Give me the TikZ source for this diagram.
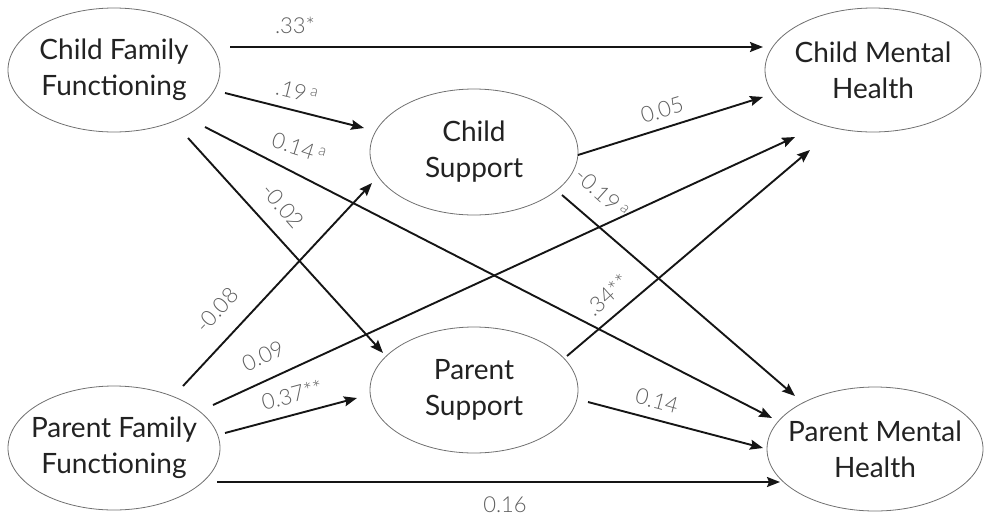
\documentclass[tikz,border=0pt]{standalone}
\usepackage{fontspec}
\setmainfont{Lato}
\newfontfamily\lightfont{Lato Light}
\usetikzlibrary{shapes.geometric,arrows.meta,calc}
\definecolor{inkline}{HTML}{151515}
\definecolor{inktext}{HTML}{222222}
\definecolor{coef}{HTML}{5E5E5E}
\definecolor{rim}{HTML}{707070}
\begin{document}
\begin{tikzpicture}[x=1pt,y=-1pt,
  construct/.style={ellipse,draw=rim,line width=0.8pt,inner xsep=-30pt,inner ysep=0pt,
    minimum width=212pt,minimum height=124pt,align=center,text=inktext,
    font=\fontsize{28}{36}\selectfont},
  path/.style={draw=inkline,line width=1.9pt,-{Stealth[length=13pt,width=10pt,inset=2pt]}},
  coefl/.style={text=coef,font=\lightfont\fontsize{22}{26}\selectfont,inner sep=1pt}]
\useasboundingbox (0,0) rectangle (984,520);

% latent constructs
\node[construct] (cff) at (114,70)  {Child Family\\Functioning};
\node[construct,minimum width=216pt] (cmh) at (873,70)  {Child Mental\\Health};
\node[construct,minimum width=208pt,minimum height=126pt] (cs) at (474,152) {Child\\Support};
\node[construct,minimum width=208pt,minimum height=126pt] (ps) at (474,390) {Parent\\Support};
\node[construct] (pff) at (114,448) {Parent Family\\Functioning};
\node[construct,minimum width=216pt] (pmh) at (875,449) {Parent Mental\\Health};

% structural paths
\draw[path] ($(cff)+(116,-23)$) -- ($(cmh)+(-110,-23)$);
\draw[path] ($(cff)+(111,23)$)  -- ($(cs)+(-110,-24)$);
\draw[path] ($(cff)+(91,57)$)   -- ($(pmh)+(-103,-31)$);
\draw[path] ($(cff)+(74,68)$)   -- ($(ps)+(-91,-37)$);
\draw[path] ($(pff)+(69,-62)$)  -- ($(cs)+(-102,31)$);
\draw[path] ($(pff)+(99,-43)$)  -- ($(cmh)+(-78,67)$);
\draw[path] ($(pff)+(111,-15)$) -- ($(ps)+(-117,8)$);
\draw[path] ($(pff)+(103,34)$)  -- ($(pmh)+(-95,33)$);
\draw[path] ($(cs)+(104,3)$)    -- ($(cmh)+(-110,27)$);
\draw[path] ($(cs)+(88,43)$)    -- ($(pmh)+(-80,-53)$);
\draw[path] ($(ps)+(93,-34)$)   -- ($(cmh)+(-63,80)$);
\draw[path] ($(ps)+(114,12)$)   -- ($(pmh)+(-112,-1)$);

% path coefficients
\node[coefl] (c1)  at (295,25)  {.33*};
\node[coefl,rotate=-14] (c2)  at (297,92)  {.19\,\textsuperscript{a}};
\node[coefl,rotate=-18] (c3)  at (299,148) {0.14\,\textsuperscript{a}};
\node[coefl,rotate=-49] (c4)  at (283,206) {-0.02};
\node[coefl,rotate=47]  (c5)  at (217,310) {-0.08};
\node[coefl,rotate=25]  (c6)  at (263,356) {0.09};
\node[coefl,rotate=15]  (c7)  at (292,395) {0.37**};
\node[coefl]            (c8)  at (505,505) {0.16};
\node[coefl,rotate=17]  (c9)  at (662,110) {0.05};
\node[coefl,rotate=-42] (c10) at (602,193) {-0.19\,\textsuperscript{a}};
\node[coefl,rotate=42]  (c11) at (607,295) {.34**};
\node[coefl,rotate=-15] (c12) at (657,401) {0.14};
\end{tikzpicture}
\end{document}
